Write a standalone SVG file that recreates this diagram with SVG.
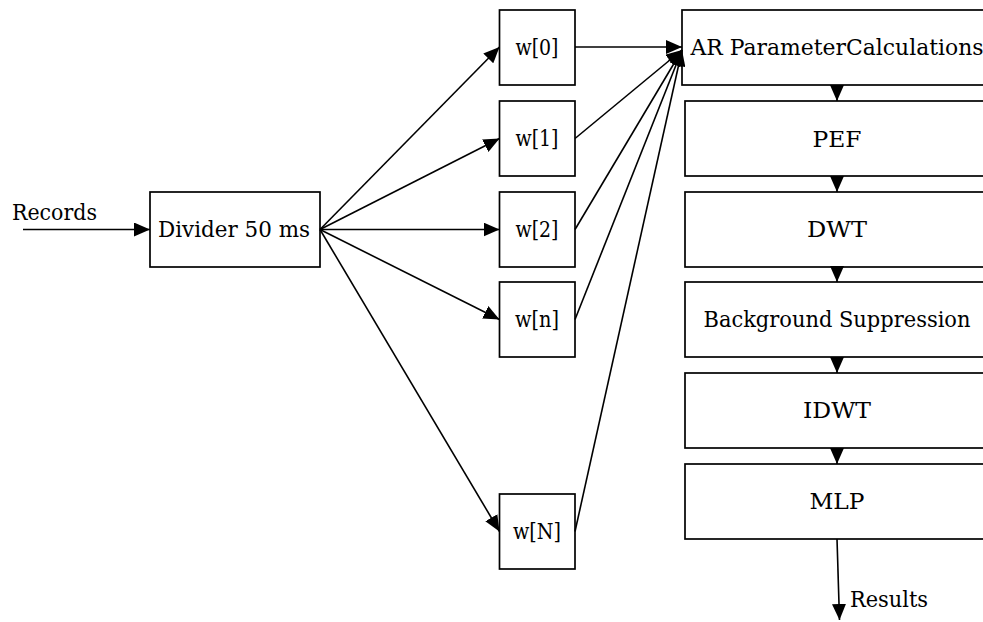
<svg xmlns="http://www.w3.org/2000/svg" width="983" height="622" viewBox="0 0 983 622">
<style>
rect{fill:#fff;stroke:#000;stroke-width:1.7}
text{font-family:"DejaVu Serif","Liberation Serif",serif;font-size:21.5px;fill:#000}
.c{text-anchor:middle}
.e line{stroke:#000;stroke-width:1.6;marker-end:url(#ah)}
</style>
<defs>
<marker id="ah" markerUnits="userSpaceOnUse" markerWidth="17" markerHeight="14" refX="16" refY="7" orient="auto">
<path d="M0,0 L16,7 L0,14 Z" fill="#000"/>
</marker>
</defs>
<g id="records"><text x="12" y="220" textLength="85" lengthAdjust="spacingAndGlyphs">Records</text></g>
<g id="divider"><rect x="150" y="192" width="170" height="75"/><text class="c" x="234" y="237" textLength="152" lengthAdjust="spacingAndGlyphs">Divider 50 ms</text></g>
<g id="w0"><rect x="499.5" y="10" width="75.5" height="75"/><text class="c" x="537" y="55" textLength="43" lengthAdjust="spacingAndGlyphs">w[0]</text></g>
<g id="w1"><rect x="499.5" y="101" width="75.5" height="75"/><text class="c" x="537" y="146" textLength="43" lengthAdjust="spacingAndGlyphs">w[1]</text></g>
<g id="w2"><rect x="499.5" y="192" width="75.5" height="75"/><text class="c" x="537" y="237" textLength="43" lengthAdjust="spacingAndGlyphs">w[2]</text></g>
<g id="wn"><rect x="499.5" y="282" width="75.5" height="75"/><text class="c" x="537" y="327" textLength="44" lengthAdjust="spacingAndGlyphs">w[n]</text></g>
<g id="wN"><rect x="499.5" y="494" width="75.5" height="75"/><text class="c" x="537" y="539" textLength="48" lengthAdjust="spacingAndGlyphs">w[N]</text></g>
<g id="ar"><rect x="682" y="10" width="320" height="75"/><text class="c" x="837" y="55" textLength="293" lengthAdjust="spacingAndGlyphs">AR ParameterCalculations</text></g>
<g id="pef"><rect x="685" y="101" width="320" height="75"/><text class="c" x="837" y="147" textLength="49" lengthAdjust="spacingAndGlyphs">PEF</text></g>
<g id="dwt"><rect x="685" y="192" width="320" height="75"/><text class="c" x="837" y="237" textLength="60" lengthAdjust="spacingAndGlyphs">DWT</text></g>
<g id="bs"><rect x="685" y="282" width="320" height="75"/><text class="c" x="837" y="327" textLength="267" lengthAdjust="spacingAndGlyphs">Background Suppression</text></g>
<g id="idwt"><rect x="685" y="373" width="320" height="75"/><text class="c" x="837" y="418" textLength="68" lengthAdjust="spacingAndGlyphs">IDWT</text></g>
<g id="mlp"><rect x="685" y="464" width="320" height="75"/><text class="c" x="837" y="509" textLength="55" lengthAdjust="spacingAndGlyphs">MLP</text></g>
<g id="results"><text x="850" y="607" textLength="78" lengthAdjust="spacingAndGlyphs">Results</text></g>
<g id="connectors" class="e">
<line x1="23" y1="229.5" x2="150" y2="229.5"/>
<line x1="320" y1="229.5" x2="499.5" y2="47"/>
<line x1="320" y1="229.5" x2="499.5" y2="138.5"/>
<line x1="320" y1="229.5" x2="499.5" y2="229.5"/>
<line x1="320" y1="229.5" x2="499.5" y2="319.5"/>
<line x1="320" y1="229.5" x2="499.5" y2="531.5"/>
<line x1="575" y1="47" x2="682" y2="47"/>
<line x1="575" y1="138.5" x2="682" y2="50"/>
<line x1="575" y1="229.5" x2="682" y2="50"/>
<line x1="575" y1="319.5" x2="682" y2="50"/>
<line x1="575" y1="531.5" x2="682" y2="50"/>
<line x1="837" y1="85" x2="837" y2="101"/>
<line x1="837" y1="176" x2="837" y2="192"/>
<line x1="837" y1="267" x2="837" y2="282"/>
<line x1="837" y1="357" x2="837" y2="373"/>
<line x1="837" y1="448" x2="837" y2="464"/>
<line x1="837" y1="539" x2="839.5" y2="620"/>
</g>
</svg>
